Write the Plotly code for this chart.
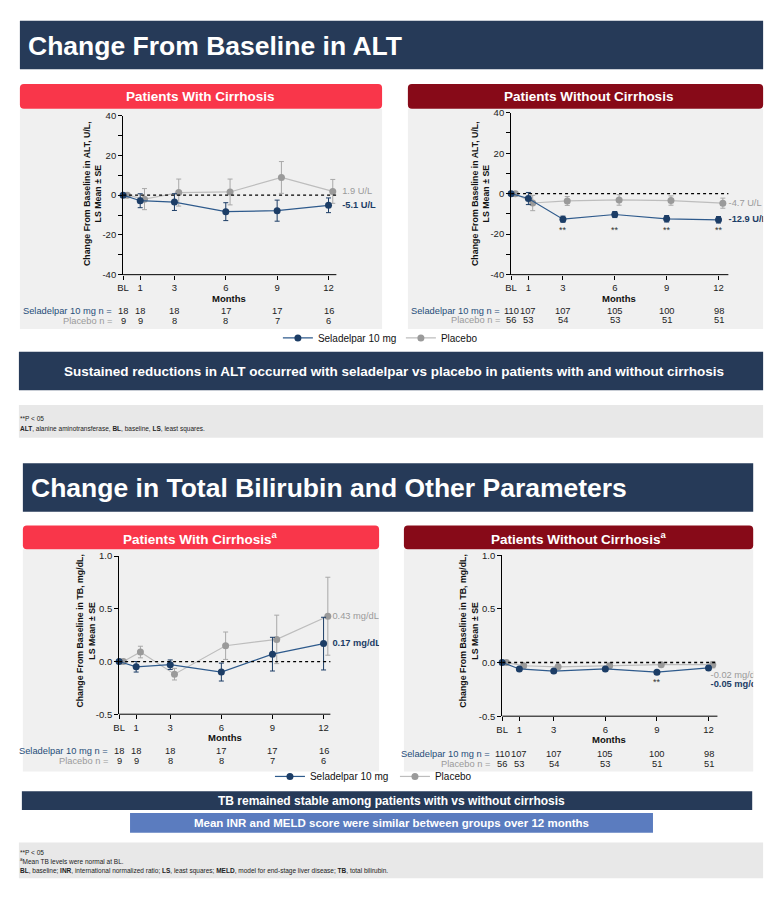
import plotly.graph_objects as go

W, H = 779, 897
def X(p): return p / W
def Y(p): return 1 - p / H

# ---------------- data ----------------
months = [0, 1, 3, 6, 9, 12]
tick_labels = ["BL", "1", "3", "6", "9", "12"]
pbo_offset = 0.25

alt_cirr_sel = [0, -2.8, -3.5, -8.3, -7.8, -5.1]
alt_cirr_sel_se = [0, 3.5, 4.2, 4.5, 5.3, 3.7]
alt_cirr_pbo = [0, -2.0, 1.3, 1.6, 8.9, 1.9]
alt_cirr_pbo_se = [0, 5.3, 6.8, 6.5, 8.0, 6.0]

alt_nocirr_sel = [0, -2.4, -12.6, -10.3, -12.4, -12.9]
alt_nocirr_sel_se = [0, 3.0, 1.5, 1.5, 1.6, 1.6]
alt_nocirr_pbo = [0, -4.6, -3.6, -3.1, -3.4, -4.7]
alt_nocirr_pbo_se = [0, 3.8, 2.2, 2.6, 2.3, 2.5]

tb_cirr_sel = [0, -0.05, -0.03, -0.10, 0.07, 0.17]
tb_cirr_sel_se = [0, 0.05, 0.045, 0.085, 0.16, 0.25]
tb_cirr_pbo = [0, 0.09, -0.12, 0.15, 0.21, 0.43]
tb_cirr_pbo_se = [0, 0.055, 0.055, 0.13, 0.23, 0.37]

tb_nocirr_sel = [0, -0.06, -0.08, -0.06, -0.09, -0.05]
tb_nocirr_sel_se = [0, 0.015, 0.015, 0.015, 0.015, 0.02]
tb_nocirr_pbo = [0, -0.03, -0.04, -0.03, -0.02, -0.02]
tb_nocirr_pbo_se = [0, 0.015, 0.015, 0.015, 0.015, 0.03]

cirr_sel_n = [18, 18, 18, 17, 17, 16]
cirr_pbo_n = [9, 9, 8, 8, 7, 6]
nocirr_sel_n = [110, 107, 107, 105, 100, 98]
nocirr_pbo_n = [56, 53, 54, 53, 51, 51]

alt_ticks = [-40, -20, 0, 20, 40]
alt_ticktext = ["-40", "-20", "0", "20", "40"]
alt_minor_ticks = [-30, -10, 10, 30]
tb_ticks = [-0.5, 0.0, 0.5, 1.0]
tb_ticktext = ["-0.5", "0.0", "0.5", "1.0"]

alt_sig_months = [3, 6, 9, 12]
tb_sig_months = [9]

# ---------------- style ----------------
FONT = "Liberation Sans, Arial, sans-serif"
NAVY = "#263A58"
RED = "#F9364A"
DRED = "#870A18"
SEL_LINE = "#2E5A8C"
SEL_MK = "#1C3D66"
PBO_LINE = "#BDBDBD"
PBO_MK = "#9A9A9A"
PANEL = "#F0F0F0"

fig = go.Figure()

panels = [
    dict(ax="", xl=118, xr=379, yt=111, yb=272, ppm=17.25, yr=[-40, 40],
         sel=alt_cirr_sel, sel_se=alt_cirr_sel_se, pbo=alt_cirr_pbo, pbo_se=alt_cirr_pbo_se,
         ticks=alt_ticks, ticktext=alt_ticktext, minor=alt_minor_ticks, legend="legend"),
    dict(ax="2", xl=509, xr=763, yt=108, yb=272, ppm=17.42, yr=[-40, 40],
         sel=alt_nocirr_sel, sel_se=alt_nocirr_sel_se, pbo=alt_nocirr_pbo, pbo_se=alt_nocirr_pbo_se,
         ticks=alt_ticks, ticktext=alt_ticktext, minor=alt_minor_ticks, legend=None),
    dict(ax="3", xl=114, xr=376, yt=557, yb=717, ppm=17.17, yr=[-0.5, 1.0],
         sel=tb_cirr_sel, sel_se=tb_cirr_sel_se, pbo=tb_cirr_pbo, pbo_se=tb_cirr_pbo_se,
         ticks=tb_ticks, ticktext=tb_ticktext, minor=[], legend="legend2"),
    dict(ax="4", xl=500, xr=753, yt=556, yb=719, ppm=17.33, yr=[-0.5, 1.0],
         sel=tb_nocirr_sel, sel_se=tb_nocirr_sel_se, pbo=tb_nocirr_pbo, pbo_se=tb_nocirr_pbo_se,
         ticks=tb_ticks, ticktext=tb_ticktext, minor=[], legend=None),
]
axis_end = [12.46, 12.57, 12.4, 12.52]

shapes = []
annotations = []

def rrect(x0, y0, x1, y1, r=4):
    def p(x, y):
        return f"{X(x):.6f},{Y(y):.6f}"
    return (f"M {p(x0+r,y0)} L {p(x1-r,y0)} Q {p(x1,y0)} {p(x1,y0+r)} "
            f"L {p(x1,y1-r)} Q {p(x1,y1)} {p(x1-r,y1)} L {p(x0+r,y1)} "
            f"Q {p(x0,y1)} {p(x0,y1-r)} L {p(x0,y0+r)} Q {p(x0,y0)} {p(x0+r,y0)} Z")

def box(x0, y0, x1, y1, color):
    shapes.append(dict(type="rect", xref="paper", yref="paper", x0=X(x0), x1=X(x1),
                       y0=Y(y1), y1=Y(y0), fillcolor=color, line_width=0, layer="below"))

def text(x, y, s, size=10, color="#222", xanchor="center", bold=False, xref="paper", yref="paper",
         family=FONT, angle=0, yanchor="middle"):
    annotations.append(dict(x=x if xref != "paper" else X(x), y=y if yref != "paper" else Y(y),
                            xref=xref, yref=yref, text=f"<b>{s}</b>" if bold else s,
                            showarrow=False, xanchor=xanchor, yanchor=yanchor, textangle=angle,
                            font=dict(size=size, color=color, family=family)))

# backgrounds
box(14, 15, 763, 64, NAVY)
box(14, 104, 379, 327, PANEL)
box(405, 104, 763, 327, PANEL)
box(13, 350, 763, 389, NAVY)
box(13, 404, 763, 437, "#E8E8E8")
box(17, 463, 753, 512, NAVY)
box(17, 550, 376, 775, PANEL)
box(401, 550, 753, 775, PANEL)
box(16, 795, 752, 814, NAVY)
box(125, 817, 652, 837, "#5B7CBF")
box(13, 847, 763, 883, "#E8E8E8")
for (x0, y0, x1, y1, c) in [(14, 79, 379, 104, RED), (405, 79, 763, 104, DRED),
                            (17, 526, 376, 550, RED), (401, 526, 753, 550, DRED)]:
    shapes.append(dict(type="path", xref="paper", yref="paper", path=rrect(x0, y0, x1, y1),
                       fillcolor=c, line_width=0, layer="below"))

layout_axes = {}
for i, P in enumerate(panels):
    ax = P["ax"]
    xname = "x" + ax
    yname = "y" + ax
    xmax = (P["xr"] - P["xl"]) / P["ppm"]
    layout_axes["xaxis" + ax] = dict(
        domain=[X(P["xl"]), X(P["xr"])], range=[0, xmax], anchor=yname,
        tickvals=months, ticktext=tick_labels, ticks="outside", ticklen=4, tickcolor="#000",
        showline=False, showgrid=False, zeroline=False,
        tickfont=dict(size=9.5, color="#222", family=FONT))
    yax = dict(
        domain=[Y(P["yb"]), Y(P["yt"])], range=P["yr"], anchor=xname,
        tickvals=P["ticks"], ticktext=P["ticktext"], ticks="outside", ticklen=4, tickcolor="#000",
        showline=True, linecolor="#000", linewidth=1, showgrid=False, zeroline=False,
        tickfont=dict(size=9.5, color="#222", family=FONT))
    if P["minor"]:
        yax["minor"] = dict(tickvals=P["minor"], ticks="outside", ticklen=4, tickcolor="#000", showgrid=False)
    layout_axes["yaxis" + ax] = yax
    shapes.append(dict(type="line", xref=xname, yref=yname + " domain", x0=0, x1=axis_end[i],
                       y0=0, y1=0, line=dict(color="#000", width=1)))
    shapes.append(dict(type="line", xref=xname, yref=yname, x0=0, x1=axis_end[i],
                       y0=0, y1=0, line=dict(color="#000", width=1.3, dash="dot")))
    showleg = P["legend"] is not None
    pbo_x = [m + pbo_offset for m in months]
    fig.add_trace(go.Scatter(
        x=pbo_x, y=P["pbo"], mode="lines+markers", name="Placebo", xaxis=xname, yaxis=yname,
        line=dict(color=PBO_LINE, width=1.2), marker=dict(color=PBO_MK, size=7),
        error_y=dict(type="data", array=P["pbo_se"], color="#A8A8A8", thickness=1, width=2.5),
        cliponaxis=False, showlegend=showleg, legend=P["legend"] or "legend", legendrank=2))
    fig.add_trace(go.Scatter(
        x=months, y=P["sel"], mode="lines+markers", name="Seladelpar 10 mg", xaxis=xname, yaxis=yname,
        line=dict(color=SEL_LINE, width=1.2), marker=dict(color=SEL_MK, size=7),
        error_y=dict(type="data", array=P["sel_se"], color=SEL_MK, thickness=1, width=2.5),
        cliponaxis=False, showlegend=showleg, legend=P["legend"] or "legend", legendrank=1))

# end-value labels (text traces, clipped to panel)
end_labels = [
    ("", 12.8, [alt_cirr_pbo[-1], alt_cirr_sel[-1]], ["1.9 U/L", "<b>-5.1 U/L</b>"]),
    ("2", 12.58, [alt_nocirr_pbo[-1], alt_nocirr_sel[-1]], ["-4.7 U/L", "<b>-12.9 U/L</b>"]),
    ("3", 12.52, [tb_cirr_pbo[-1], tb_cirr_sel[-1]], ["0.43 mg/dL", "<b>0.17 mg/dL</b>"]),
    ("4", 12.12, [-0.12, -0.205], ["-0.02 mg/dL", "<b>-0.05 mg/dL</b>"]),
]
for ax, xm, ys, labels in end_labels:
    fig.add_trace(go.Scatter(
        x=[xm, xm], y=ys, mode="text", text=labels, textposition="middle right",
        textfont=dict(size=9.3, color=[PBO_MK, SEL_MK], family=FONT),
        xaxis="x" + ax, yaxis="y" + ax, cliponaxis=True, showlegend=False, hoverinfo="skip"))

for m in alt_sig_months:
    text(m, -18, "**", size=9, color="#333", xref="x2", yref="y2")
for m in tb_sig_months:
    text(m, -0.18, "**", size=9, color="#333", xref="x4", yref="y4")

# titles and text
text(20, 40, "Change From Baseline in ALT", size=26.5, color="white", xanchor="left", bold=True)
text(23, 488, "Change in Total Bilirubin and Other Parameters", size=26.5, color="white", xanchor="left", bold=True)
text(196, 92, "Patients With Cirrhosis", size=13.5, color="white", bold=True)
text(587, 92, "Patients Without Cirrhosis", size=13.5, color="white", bold=True)
text(196, 539, "Patients With Cirrhosis<sup>a</sup>", size=13.5, color="white", bold=True)
text(577, 539, "Patients Without Cirrhosis<sup>a</sup>", size=13.5, color="white", bold=True)

text(391, 370, "Sustained reductions in ALT occurred with seladelpar vs placebo in patients with and without cirrhosis",
     size=13.5, color="white", bold=True, family="Liberation Sans Narrow, Arial Narrow, Liberation Sans, Arial")
text(388, 805, "TB remained stable among patients with vs without cirrhosis", size=12, color="white", bold=True)
text(388, 827, "Mean INR and MELD score were similar between groups over 12 months", size=11.5, color="white", bold=True)

text(87, 190, "Change From Baseline in ALT, U/L,<br>LS Mean ± SE", size=8.8, color="#111", bold=True, angle=-90)
text(478, 190, "Change From Baseline in ALT, U/L,<br>LS Mean ± SE", size=8.8, color="#111", bold=True, angle=-90)
text(80, 633, "Change From Baseline in TB, mg/dL,<br>LS Mean ± SE", size=8.8, color="#111", bold=True, angle=-90)
text(466, 633, "Change From Baseline in TB, mg/dL,<br>LS Mean ± SE", size=8.8, color="#111", bold=True, angle=-90)

text(225, 296, "Months", size=9.5, color="#111", bold=True)
text(618, 296, "Months", size=9.5, color="#111", bold=True)
text(221, 741, "Months", size=9.5, color="#111", bold=True)
text(608, 743, "Months", size=9.5, color="#111", bold=True)

n_rows = [
    ("", 109, 309, 319, cirr_sel_n, cirr_pbo_n),
    ("2", 500, 309, 318, nocirr_sel_n, nocirr_pbo_n),
    ("3", 105, 754, 764, cirr_sel_n, cirr_pbo_n),
    ("4", 490, 757, 767, nocirr_sel_n, nocirr_pbo_n),
]
for ax, xr, ys, yp, sn, pn in n_rows:
    text(xr, ys, "Seladelpar 10 mg n =", size=9.3, color="#1F4E79", xanchor="right")
    text(xr, yp, "Placebo n =", size=9.3, color="#9A9A9A", xanchor="right")
    for m, a, b in zip(months, sn, pn):
        annotations.append(dict(x=m, y=Y(ys), xref="x" + ax, yref="paper", text=str(a), showarrow=False,
                                yanchor="middle", font=dict(size=9.3, color="#222", family=FONT)))
        annotations.append(dict(x=m, y=Y(yp), xref="x" + ax, yref="paper", text=str(b), showarrow=False,
                                yanchor="middle", font=dict(size=9.3, color="#222", family=FONT)))

# footnotes
text(12, 418, "**P < 05", size=6.5, color="#222", xanchor="left")
text(12, 428, "<b>ALT</b>, alanine aminotransferase, <b>BL</b>, baseline, <b>LS</b>, least squares.",
     size=6.5, color="#222", xanchor="left")
text(12, 857, "**P < 05", size=6.5, color="#222", xanchor="left")
text(12, 866, "<sup>a</sup>Mean TB levels were normal at BL.", size=6.5, color="#222", xanchor="left")
text(12, 876, "<b>BL</b>, baseline; <b>INR</b>, international normalized ratio; <b>LS</b>, least squares; "
     "<b>MELD</b>, model for end-stage liver disease; <b>TB</b>, total bilirubin.",
     size=6.5, color="#222", xanchor="left")

leg = dict(orientation="h", xanchor="left", yanchor="middle", bgcolor="rgba(0,0,0,0)",
           font=dict(size=10, color="#111", family=FONT), itemwidth=30, traceorder="normal")
fig.update_layout(
    width=W, height=H, margin=dict(l=0, r=0, t=0, b=0),
    paper_bgcolor="white", plot_bgcolor="rgba(0,0,0,0)",
    font=dict(family=FONT),
    shapes=shapes, annotations=annotations,
    legend=dict(leg, x=X(274), y=Y(336), entrywidth=78),
    legend2=dict(leg, x=X(266), y=Y(780), entrywidth=80),
    **layout_axes,
)
fig.write_html("out.html")
